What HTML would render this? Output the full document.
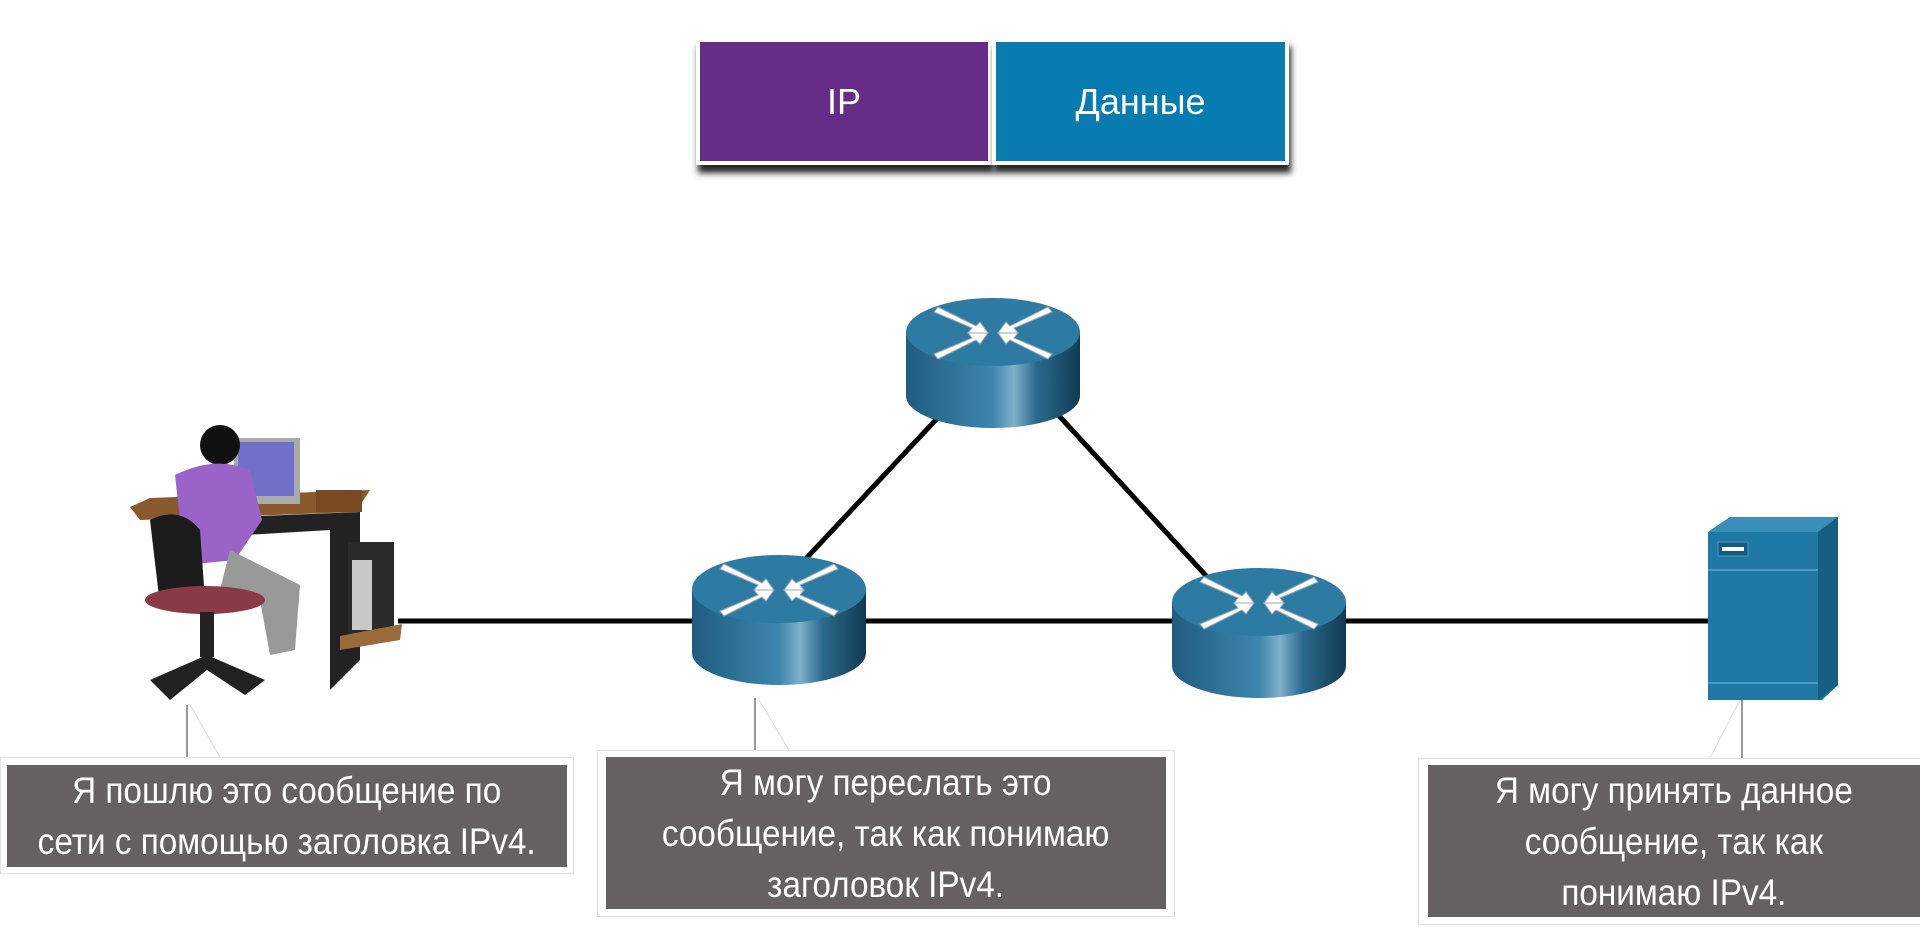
<!DOCTYPE html>
<html><head><meta charset="utf-8"><style>
html,body{margin:0;padding:0;background:#fff;}
body{width:1920px;height:927px;overflow:hidden;position:relative;font-family:"Liberation Sans",sans-serif;}
.hdr{position:absolute;top:38px;height:127px;color:#fff;font-size:36px;display:flex;align-items:center;justify-content:center;border:4px solid #fff;box-sizing:border-box;box-shadow:2px 8px 6px rgba(0,0,0,.85);}
.frame{position:absolute;border:1px solid #e2e2e2;background:#fff;}
.cb{position:absolute;background:#656163;color:#fff;font-size:37px;line-height:51px;text-align:center;display:flex;align-items:center;justify-content:center;}
.cb span{display:inline-block;transform:scaleX(0.9);white-space:nowrap;}
</style></head><body>
<div class="hdr" style="left:696px;width:296px;background:#652d87;">IP</div>
<div class="hdr" style="left:992px;width:297px;background:#087cb1;">Данные</div>

<svg width="1920" height="927" style="position:absolute;left:0;top:0" viewBox="0 0 1920 927">
<defs>
<linearGradient id="rb" x1="0" x2="1" y1="0" y2="0">
<stop offset="0" stop-color="#1f5c80"/><stop offset="0.5" stop-color="#3d86ad"/><stop offset="0.62" stop-color="#7fb0cb"/><stop offset="0.75" stop-color="#2a6a8e"/><stop offset="1" stop-color="#123a52"/>
</linearGradient>
<g id="router">
<path d="M0,34 L0,98 A87,32 0 0 0 174,98 L174,34 Z" fill="url(#rb)"/>
<ellipse cx="87" cy="34" rx="87" ry="34" fill="#2d7ba3"/>
<g fill="#fff" stroke="#9ab" stroke-width="1">
<polygon points="28,14 66,30 62,35 82,35 74,24 70,28 32,9"/>
<polygon points="146,14 108,30 112,35 92,35 100,24 104,28 142,9"/>
<polygon points="28,56 66,40 62,35 82,35 74,46 70,42 32,61"/>
<polygon points="146,56 108,40 112,35 92,35 100,46 104,42 142,61"/>
</g>
</g>
</defs>
<line x1="398" y1="621" x2="1708" y2="621" stroke="#000" stroke-width="5"/>
<line x1="945" y1="410" x2="800" y2="565" stroke="#000" stroke-width="5"/>
<line x1="1050" y1="406" x2="1210" y2="580" stroke="#000" stroke-width="5"/>
<use href="#router" x="906" y="298"/>
<use href="#router" x="692" y="555"/>
<use href="#router" x="1172" y="568"/>
<polygon points="1708,532 1730,517 1838,517 1838,685 1822,700 1708,700" fill="#1f77a4"/>
<polygon points="1708,532 1730,517 1838,517 1818,532" fill="#3a8fba"/>
<polygon points="1818,532 1838,517 1838,685 1818,700" fill="#175e83"/>
<line x1="1708" y1="570" x2="1818" y2="570" stroke="#4a9bc5" stroke-width="2"/>
<line x1="1708" y1="683" x2="1818" y2="683" stroke="#4a9bc5" stroke-width="2"/>
<rect x="1718" y="542" width="30" height="14" fill="#155b80" stroke="#4a9bc5"/>
<rect x="1722" y="547" width="22" height="4" fill="#fff"/>
<polygon points="130,507 150,498 370,490 356,512 140,520" fill="#8a5a2e"/>
<rect x="234" y="438" width="66" height="66" fill="#aaa"/>
<rect x="238" y="442" width="56" height="54" fill="#6f72c8"/>
<rect x="316" y="490" width="46" height="22" fill="#7a4a24"/>
<polygon points="160,520 360,512 360,660 330,690 330,530 160,540" fill="#222"/>
<rect x="348" y="542" width="46" height="92" fill="#2a2a2a"/>
<rect x="352" y="560" width="20" height="70" fill="#c8c8c8"/>
<polygon points="340,636 402,624 400,640 340,650" fill="#9a6a3a"/>
<circle cx="220" cy="445" r="20" fill="#111"/>
<path d="M175,475 Q215,455 250,470 L262,520 L235,560 L185,565 Z" fill="#9b62c8"/>
<path d="M230,550 L300,585 L295,650 L270,655 L260,600 L220,590 Z" fill="#999"/>
<path d="M150,520 Q180,505 200,530 L205,600 L160,605 Z" fill="#1c1c1c"/>
<ellipse cx="205" cy="600" rx="60" ry="14" fill="#8a3a44"/>
<rect x="200" y="612" width="14" height="45" fill="#222"/>
<path d="M150,680 L207,655 L265,680 L245,695 L207,670 L170,700 Z" fill="#222"/>
<line x1="187" y1="705" x2="187" y2="757" stroke="#999" stroke-width="2"/>
<line x1="190" y1="705" x2="220" y2="757" stroke="#ddd" stroke-width="1"/>
<line x1="755" y1="698" x2="755" y2="752" stroke="#999" stroke-width="2"/>
<line x1="758" y1="698" x2="790" y2="752" stroke="#ddd" stroke-width="1"/>
<line x1="1742" y1="700" x2="1742" y2="758" stroke="#999" stroke-width="2"/>
<line x1="1740" y1="700" x2="1710" y2="758" stroke="#ddd" stroke-width="1"/>
</svg>

<div class="frame" style="left:0;top:757px;width:572px;height:115px;"></div>
<div class="cb" style="left:7px;top:765px;width:560px;height:102px;"><span>Я пошлю это сообщение по<br>сети с помощью заголовка IPv4.</span></div>
<div class="frame" style="left:597px;top:750px;width:576px;height:165px;"></div>
<div class="cb" style="left:606px;top:757px;width:560px;height:152px;"><span>Я могу переслать это<br>сообщение, так как понимаю<br>заголовок IPv4.</span></div>
<div class="frame" style="left:1418px;top:758px;width:502px;height:165px;"></div>
<div class="cb" style="left:1428px;top:765px;width:492px;height:152px;"><span>Я могу принять данное<br>сообщение, так как<br>понимаю IPv4.</span></div>
</body></html>
